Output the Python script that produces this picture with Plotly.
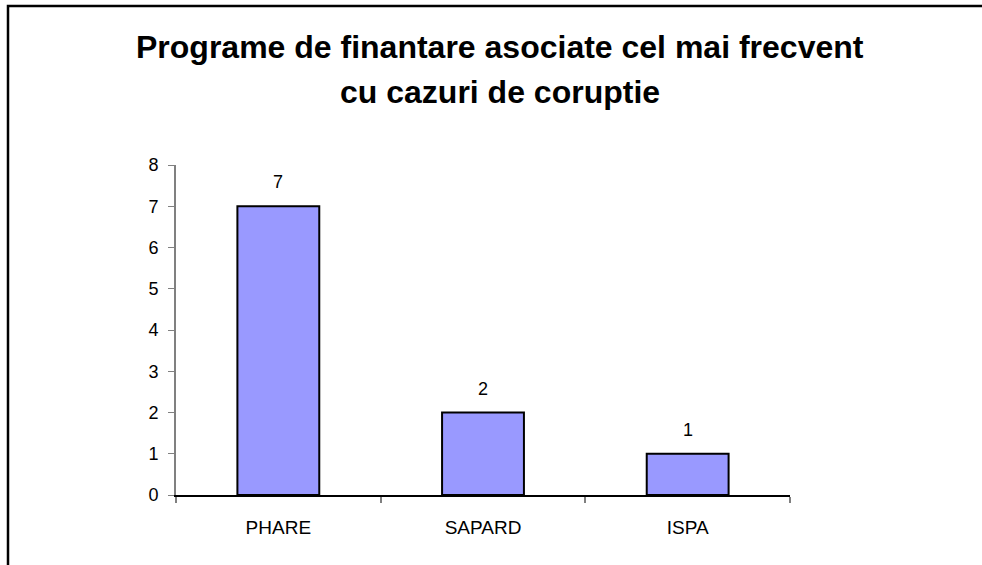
import plotly.graph_objects as go

categories = ["PHARE", "SAPARD", "ISPA"]
values = [7, 2, 1]
title_lines = ["Programe de finantare asociate cel mai frecvent", "cu cazuri de coruptie"]
y_ticks = [0, 1, 2, 3, 4, 5, 6, 7, 8]

W, H = 982, 565
L, R, T, B = 176, 192, 165, 70
pw, ph = W - L - R, H - T - B

def px_x(x):
    return (x - L) / pw

def px_y(y):
    return (H - B - y) / ph

FONT = "Liberation Sans, Arial, sans-serif"

fig = go.Figure(go.Bar(
    x=categories, y=values,
    marker=dict(color="#9999FF", line=dict(color="black", width=2)),
    cliponaxis=False,
))

for c, v in zip(categories, values):
    fig.add_annotation(
        x=c, y=v, text=str(v), showarrow=False, xanchor="center", yanchor="bottom",
        yshift=12, font=dict(family=FONT, size=18, color="black"),
    )

fig.update_layout(
    width=W, height=H,
    margin=dict(l=L, r=R, t=T, b=B),
    paper_bgcolor="white", plot_bgcolor="white",
    bargap=0.6, showlegend=False,
    font=dict(family=FONT, color="black"),
)
fig.update_yaxes(
    range=[0, 8], tickvals=y_ticks, showgrid=False, zeroline=False,
    showline=True, linecolor="#808080", linewidth=2,
    ticks="outside", ticklen=6, tickcolor="#808080", tickwidth=1,
    tickfont=dict(family=FONT, size=18, color="black"),
    ticklabelstandoff=6,
)
fig.update_xaxes(
    showgrid=False, showline=True, linecolor="black", linewidth=1.5,
    ticks="outside", tickson="boundaries", ticklen=6, tickcolor="#808080", tickwidth=1.5,
    tickfont=dict(family=FONT, size=19, color="black"),
    ticklabelstandoff=14,
)

for line, ypx in zip(title_lines, [47, 92]):
    fig.add_annotation(
        text="<b>%s</b>" % line, xref="paper", yref="paper",
        x=px_x(500), y=px_y(ypx), xanchor="center", yanchor="middle",
        showarrow=False, font=dict(family=FONT, size=32, color="black"),
    )

fig.add_shape(
    type="rect", xref="paper", yref="paper",
    x0=px_x(8), x1=px_x(1100), y0=px_y(700), y1=px_y(6),
    line=dict(color="black", width=2.5), fillcolor="rgba(0,0,0,0)", layer="above",
)

fig.write_html(
    "out.html",
    config={"displayModeBar": False},
    post_script="document.body.style.margin='0';document.body.style.padding='0';",
)
